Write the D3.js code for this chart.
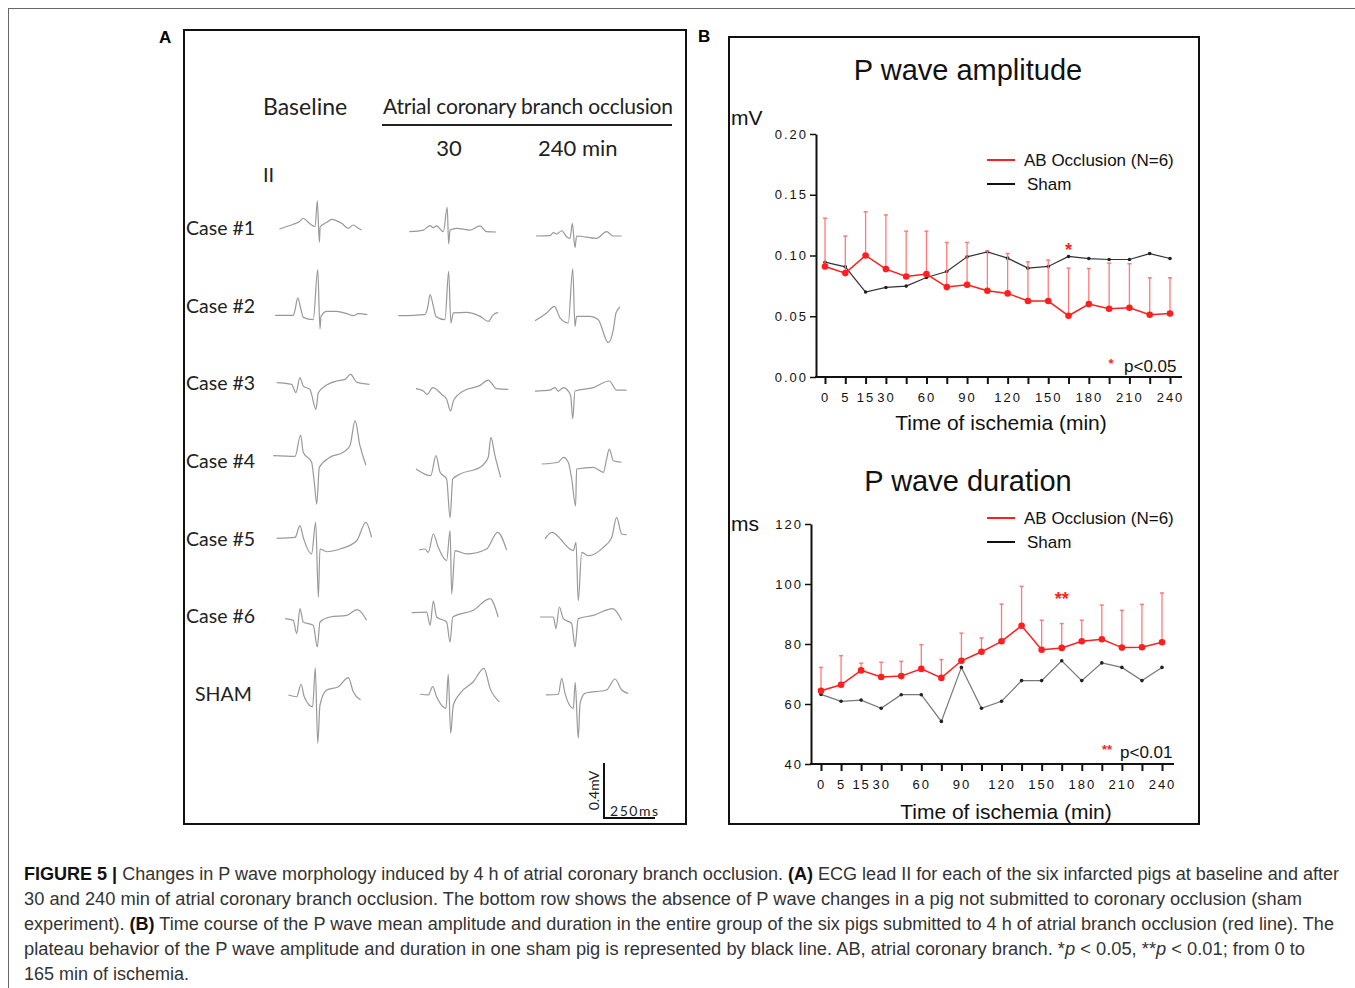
<!DOCTYPE html>
<html lang="en">
<head>
  <meta charset="utf-8">
  <title>Figure 5</title>
  <style>
    body { margin: 0; background: #fff; }
    svg text { font-family: "Liberation Sans", Arial, sans-serif; }
  </style>
</head>
<body>
<script src="https://cdn.jsdelivr.net/npm/d3@7"></script>
<script>
// ---- panel B data (x axis is categorical: one point every 15 min after 15) ----
var times = [0, 5, 15, 30, 45, 60, 75, 90, 105, 120, 135, 150, 165, 180, 195, 210, 225, 240];
var timeLabels = [0, 5, 15, 30, 60, 90, 120, 150, 180, 210, 240];

var ampAB    = [0.091, 0.0855, 0.100, 0.0888, 0.0827, 0.0847, 0.074, 0.0759, 0.071, 0.0688, 0.0625, 0.0625, 0.0504, 0.060, 0.0562, 0.057, 0.0512, 0.0523];
var ampABTop = [0.1307, 0.116, 0.136, 0.1334, 0.120, 0.120, 0.1107, 0.1107, 0.1038, 0.1016, 0.0948, 0.0962, 0.0896, 0.0893, 0.0937, 0.0932, 0.0816, 0.0816];
var ampSham  = [0.0945, 0.0907, 0.0699, 0.0737, 0.0748, 0.0819, 0.0868, 0.0989, 0.103, 0.0978, 0.0896, 0.091, 0.0992, 0.0975, 0.0967, 0.0967, 0.1016, 0.0975];
var ampTicks = [0, 0.05, 0.10, 0.15, 0.20];
var ampStars = [{ time: 165, value: 0.107, mark: "*" }];

var durAB    = [64.4, 66.4, 71.2, 69.0, 69.3, 71.7, 68.7, 74.4, 77.4, 80.9, 86.1, 78.1, 78.7, 80.9, 81.6, 78.8, 78.9, 80.6];
var durABTop = [72.2, 76.1, 73.6, 73.9, 74.2, 79.8, 74.8, 83.6, 82.0, 93.3, 99.2, 87.9, 86.8, 87.9, 93.0, 91.2, 93.2, 97.0];
var durSham  = [63.2, 60.9, 61.3, 58.6, 63.1, 63.1, 54.2, 72.2, 58.6, 60.9, 67.8, 67.8, 74.4, 67.8, 73.7, 72.2, 67.8, 72.2];
var durTicks = [40, 60, 80, 100, 120];
var durStars = [{ time: 165, value: 96, mark: "**" }];

// ---- panel A data: ECG lead II, [ms, mV] from the start of each cell ----
var ecgRows = ["Case #1", "Case #2", "Case #3", "Case #4", "Case #5", "Case #6", "SHAM"];
var ecgCols = ["Baseline", "30", "240 min"];

var case1 = [
  [[46,-0.007],[114,0.027],[144,0.046],[163,0.071],[193,0.034],[221,0.009],[232,0.198],[242,-0.104],[246,0.009],[278,0.041],[302,0.063],[351,0.034],[384,-0.002],[408,0.022],[433,-0.002],[449,-0.015]],
  [[70,-0.027],[139,-0.015],[172,0.017],[188,0.002],[204,0.015],[237,-0.027],[256,0.150],[263,-0.116],[270,-0.015],[302,-0.002],[368,-0.015],[417,0.015],[449,-0.027],[495,-0.029]],
  [[54,-0.058],[123,-0.056],[139,-0.034],[155,-0.044],[180,-0.020],[204,-0.063],[221,-0.075],[232,0.034],[245,-0.143],[253,-0.058],[351,-0.075],[400,-0.027],[433,-0.058],[474,-0.058]]
];
var case2 = [
  [[25,-0.071],[114,-0.071],[123,-0.029],[136,0.056],[150,-0.017],[163,-0.085],[212,-0.102],[234,0.262],[245,-0.169],[250,-0.078],[278,-0.041],[327,-0.041],[376,-0.058],[408,-0.073],[433,-0.058],[477,-0.065]],
  [[16,-0.073],[147,-0.065],[160,-0.015],[172,0.080],[188,-0.005],[201,-0.078],[245,-0.102],[263,0.249],[274,-0.126],[286,-0.053],[351,-0.049],[417,-0.078],[457,-0.114],[482,-0.065],[506,-0.049]],
  [[49,-0.109],[106,-0.053],[144,-0.005],[172,-0.089],[212,-0.126],[234,0.267],[245,-0.150],[253,-0.078],[319,-0.078],[359,-0.102],[408,-0.269],[433,-0.174],[446,-0.053],[466,-0.009]]
];
var case3 = [
  [[33,0.005],[106,-0.007],[127,-0.068],[147,0.041],[163,-0.020],[196,-0.044],[204,-0.080],[225,-0.189],[237,-0.068],[270,-0.020],[327,0.017],[368,0.029],[395,0.065],[425,0.009],[487,-0.007]],
  [[103,-0.039],[139,-0.056],[158,-0.080],[185,-0.031],[229,-0.080],[253,-0.116],[273,-0.201],[286,-0.129],[335,-0.056],[417,-0.015],[457,0.024],[498,-0.039],[555,-0.044]],
  [[49,-0.056],[123,-0.049],[147,-0.031],[163,-0.056],[188,-0.031],[212,-0.056],[224,-0.092],[234,-0.257],[245,-0.056],[335,-0.031],[413,0.017],[449,-0.049],[498,-0.049]]
];
var case4 = [
  [[16,0.039],[123,0.034],[150,0.189],[163,0.063],[204,-0.009],[217,-0.155],[229,-0.313],[242,-0.046],[294,0.027],[359,0.063],[392,0.111],[417,0.293],[441,0.111],[470,-0.029]],
  [[103,-0.058],[175,-0.107],[201,0.039],[221,-0.082],[253,-0.131],[270,-0.414],[283,-0.131],[319,-0.095],[417,-0.046],[457,0.027],[470,0.172],[490,0.039],[518,-0.119]],
  [[82,-0.022],[163,-0.009],[188,0.027],[212,-0.009],[229,-0.131],[248,-0.327],[253,-0.058],[335,-0.046],[384,-0.082],[400,0.015],[413,0.087],[433,0.002],[474,-0.009]]
];
var case5 = [
  [[33,0.002],[123,0.009],[147,0.095],[163,0.009],[204,-0.111],[224,0.119],[237,-0.427],[245,-0.075],[278,-0.095],[343,-0.075],[425,-0.015],[470,0.119],[498,0.009]],
  [[119,-0.082],[147,-0.075],[163,-0.100],[188,0.034],[212,-0.063],[253,-0.160],[270,0.058],[278,-0.402],[294,-0.087],[351,-0.111],[449,-0.075],[503,0.046],[547,-0.082]],
  [[98,-0.002],[131,0.046],[237,-0.087],[250,-0.027],[261,-0.451],[278,-0.100],[310,-0.124],[384,-0.063],[425,0.009],[449,0.155],[474,0.034],[498,0.029]]
];
var case6 = [
  [[74,-0.017],[114,-0.029],[131,-0.126],[147,0.056],[163,-0.041],[212,-0.065],[232,-0.223],[245,-0.041],[294,-0.005],[376,0.007],[428,0.049],[474,-0.029]],
  [[82,0.027],[155,0.031],[172,-0.065],[188,0.111],[204,-0.005],[253,-0.041],[270,-0.187],[283,-0.005],[384,0.044],[466,0.129],[506,-0.005]],
  [[74,-0.005],[139,-0.005],[152,-0.089],[168,0.068],[188,-0.017],[229,-0.053],[245,-0.223],[261,-0.017],[335,0.007],[430,0.056],[474,-0.029]]
];
var sham = [
  [[90,-0.007],[131,-0.020],[152,0.071],[168,-0.020],[209,-0.092],[222,0.191],[234,-0.358],[245,-0.080],[278,0.029],[335,0.053],[384,0.119],[408,0.017],[444,-0.044]],
  [[123,-0.002],[163,-0.007],[185,0.053],[204,-0.020],[250,-0.104],[261,0.143],[273,-0.286],[286,-0.080],[319,0.005],[384,0.089],[436,0.187],[466,0.041],[511,-0.056]],
  [[103,-0.007],[163,-0.002],[180,0.114],[196,0.005],[237,-0.104],[246,0.085],[261,-0.322],[270,-0.068],[294,0.005],[400,0.029],[441,0.109],[474,0.029],[506,0.005]]
];
var ecgData = [case1, case2, case3, case4, case5, case6, sham];

var captionLines = [
  [["b", "FIGURE 5 | "], ["", "Changes in P wave morphology induced by 4 h of atrial coronary branch occlusion. "], ["b", "(A)"], ["", " ECG lead II for each of the six infarcted pigs at baseline and after"]],
  [["", "30 and 240 min of atrial coronary branch occlusion. The bottom row shows the absence of P wave changes in a pig not submitted to coronary occlusion (sham"]],
  [["", "experiment). "], ["b", "(B)"], ["", " Time course of the P wave mean amplitude and duration in the entire group of the six pigs submitted to 4 h of atrial branch occlusion (red line). The"]],
  [["", "plateau behavior of the P wave amplitude and duration in one sham pig is represented by black line. AB, atrial coronary branch. *"], ["i", "p"], ["", " < 0.05, **"], ["i", "p"], ["", " < 0.01; from 0 to"]],
  [["", "165 min of ischemia."]]
];
var captionWidths = [1315, 1278, 1310, 1281, 165];

var W = 1355, H = 988;
var red = "#ff1f1f", redLight = "#ff7a7a";

var svg = d3.select("body").append("svg")
  .attr("width", W).attr("height", H);

// outer frame
svg.append("rect").attr("x", 8.5).attr("y", 8.5).attr("width", 1400).attr("height", 1100)
  .attr("fill", "none").attr("stroke", "#666").attr("stroke-width", 1);

// ================= PANEL A =================
var gA = svg.append("g");
gA.append("rect").attr("x", 184).attr("y", 30).attr("width", 502).attr("height", 794)
  .attr("fill", "none").attr("stroke", "#111").attr("stroke-width", 2);
svg.append("text").attr("x", 159).attr("y", 43).attr("font-size", 17).attr("font-weight", "bold").text("A");
svg.append("text").attr("x", 698).attr("y", 42).attr("font-size", 17).attr("font-weight", "bold").text("B");

var fA = "Lato, 'Open Sans', sans-serif";
gA.append("text").attr("x", 263).attr("y", 115).attr("font-size", 23).style("font-family", fA).attr("fill", "#222").text("Baseline");
gA.append("text").attr("x", 383).attr("y", 114).attr("font-size", 21).style("font-family", fA).attr("fill", "#222")
  .attr("textLength", 290).text("Atrial coronary branch occlusion");
gA.append("line").attr("x1", 382).attr("x2", 672).attr("y1", 125).attr("y2", 125).attr("stroke", "#222").attr("stroke-width", 2);
gA.append("text").attr("x", 449).attr("y", 156).attr("text-anchor", "middle").attr("font-size", 22).style("font-family", fA).attr("fill", "#222").text("30");
gA.append("text").attr("x", 538).attr("y", 156).attr("font-size", 22).style("font-family", fA).attr("fill", "#222").text("240 min");
gA.append("text").attr("x", 263).attr("y", 182).attr("font-size", 20).style("font-family", fA).attr("fill", "#222").text("II");

var rowY = d3.scalePoint().domain(ecgRows).range([228, 694]);
var colX = d3.scaleOrdinal().domain(ecgCols).range([270, 395, 525]);
var tScale = d3.scaleLinear().domain([0, 250]).range([0, 51]);
var vScale = d3.scaleLinear().domain([0, 0.4]).range([0, -55]);

ecgRows.forEach(function (r, i) {
  gA.append("text")
    .attr("x", r === "SHAM" ? 195 : 186).attr("y", rowY(r) + 7)
    .attr("font-size", 19.5).style("font-family", fA).attr("fill", "#222").text(r);
  ecgCols.forEach(function (c, j) {
    var line = d3.line()
      .curve(d3.curveMonotoneX)
      .x(function (d) { return colX(c) + tScale(d[0]); })
      .y(function (d) { return rowY(r) + vScale(d[1]); });
    gA.append("path").datum(ecgData[i][j]).attr("d", line)
      .attr("fill", "none").attr("stroke", "#999").attr("stroke-width", 1.2)
      .attr("stroke-linejoin", "round");
  });
});

// scale bar
var sbX = 604, sbY = 818;
gA.append("path")
  .attr("d", "M" + sbX + "," + (sbY + vScale(0.4)) + "V" + sbY + "H" + (sbX + tScale(250)))
  .attr("fill", "none").attr("stroke", "#111").attr("stroke-width", 2);
gA.append("text").attr("transform", "translate(599," + (sbY + vScale(0.2)) + ") rotate(-90)")
  .attr("text-anchor", "middle").attr("font-size", 14).style("font-family", fA).attr("fill", "#222").text("0.4mV");
gA.append("text").attr("x", sbX + 6).attr("y", sbY - 2).attr("font-size", 14).style("font-family", fA)
  .attr("fill", "#222").attr("textLength", 48).text("250ms");

// ================= PANEL B =================
svg.append("rect").attr("x", 729).attr("y", 37).attr("width", 470).attr("height", 787)
  .attr("fill", "none").attr("stroke", "#111").attr("stroke-width", 2);

function drawChart(cfg) {
  var g = svg.append("g");
  var x = d3.scalePoint().domain(times).range(cfg.xRange);
  var y = d3.scaleLinear().domain(cfg.yDomain).range(cfg.yRange);
  var x0 = cfg.axisX, y0 = cfg.yRange[0];

  g.append("text").attr("x", cfg.titleX).attr("y", cfg.titleY).attr("text-anchor", "middle")
    .attr("font-size", 29).attr("fill", "#111").text(cfg.title);
  g.append("text").attr("x", 731).attr("y", cfg.unitY).attr("font-size", 21).attr("fill", "#111").text(cfg.unit);

  // y axis
  var ya = g.append("g").attr("transform", "translate(" + x0 + ",0)")
    .call(d3.axisLeft(y).tickValues(cfg.yTicks).tickFormat(cfg.yFormat).tickSize(6).tickSizeOuter(0));
  ya.select(".domain").attr("stroke", "#111").attr("stroke-width", 2);
  ya.selectAll(".tick line").attr("stroke", "#111").attr("stroke-width", 1.5);
  ya.selectAll(".tick text").attr("font-size", 13).attr("fill", "#111")
    .style("letter-spacing", "2px").style("font-family", "'Liberation Sans', Arial, sans-serif")
    .attr("x", -8);

  // x axis
  var xa = g.append("g").attr("transform", "translate(0," + y0 + ")")
    .call(d3.axisBottom(x).tickValues(times)
      .tickFormat(function (d) { return timeLabels.indexOf(d) >= 0 ? d : ""; })
      .tickSize(7).tickSizeOuter(0));
  xa.select(".domain").remove();
  xa.selectAll(".tick line").attr("stroke", "#111").attr("stroke-width", 2);
  xa.selectAll(".tick text").attr("font-size", 13).attr("fill", "#111").attr("y", 16)
    .style("letter-spacing", "2px").style("font-family", "'Liberation Sans', Arial, sans-serif");
  g.append("line").attr("x1", x0 - 1).attr("x2", cfg.xRange[1] + 12).attr("y1", y0).attr("y2", y0)
    .attr("stroke", "#111").attr("stroke-width", 2);

  g.append("text").attr("x", cfg.xTitleX).attr("y", cfg.xTitleY).attr("text-anchor", "middle")
    .attr("font-size", 21).attr("fill", "#111").text("Time of ischemia (min)");

  // sham line
  var line = d3.line().x(function (d, i) { return x(times[i]); }).y(function (d) { return y(d); });
  g.append("path").datum(cfg.sham).attr("d", line).attr("fill", "none")
    .attr("stroke", cfg.shamColor).attr("stroke-width", 1.2);
  g.selectAll(".sd").data(cfg.sham).enter().append("circle")
    .attr("cx", function (d, i) { return x(times[i]); }).attr("cy", function (d) { return y(d); })
    .attr("r", 1.8).attr("fill", "#222");

  // AB error bars (upper only)
  cfg.ab.forEach(function (d, i) {
    var cx = x(times[i]);
    g.append("line").attr("x1", cx).attr("x2", cx).attr("y1", y(d)).attr("y2", y(cfg.abTop[i]))
      .attr("stroke", redLight).attr("stroke-width", 1.3);
    g.append("line").attr("x1", cx - 2).attr("x2", cx + 2).attr("y1", y(cfg.abTop[i])).attr("y2", y(cfg.abTop[i]))
      .attr("stroke", redLight).attr("stroke-width", 1.5);
  });
  g.append("path").datum(cfg.ab).attr("d", line).attr("fill", "none")
    .attr("stroke", red).attr("stroke-width", 1.5);
  g.selectAll(".ad").data(cfg.ab).enter().append("circle")
    .attr("cx", function (d, i) { return x(times[i]); }).attr("cy", function (d) { return y(d); })
    .attr("r", 3.3).attr("fill", red);

  // significance marks
  cfg.stars.forEach(function (s) {
    g.append("text").attr("x", x(s.time)).attr("y", y(s.value) + 9).attr("text-anchor", "middle")
      .attr("font-size", 18).attr("font-weight", "bold").attr("fill", red).text(s.mark);
  });

  // legend
  var ly = cfg.legendY;
  g.append("line").attr("x1", 987).attr("x2", 1015).attr("y1", ly).attr("y2", ly).attr("stroke", red).attr("stroke-width", 2);
  g.append("text").attr("x", 1024).attr("y", ly + 6).attr("font-size", 17).attr("fill", "#111").text("AB Occlusion (N=6)");
  g.append("line").attr("x1", 987).attr("x2", 1015).attr("y1", ly + 24).attr("y2", ly + 24).attr("stroke", "#111").attr("stroke-width", 2);
  g.append("text").attr("x", 1027).attr("y", ly + 30).attr("font-size", 17).attr("fill", "#111").text("Sham");

  // p-value note
  g.append("text").attr("x", cfg.noteX - 13).attr("y", cfg.noteY + 2).attr("text-anchor", "middle")
    .attr("font-size", 13).attr("font-weight", "bold").attr("fill", red).text(cfg.noteMark);
  g.append("text").attr("x", cfg.noteX).attr("y", cfg.noteY + 6).attr("font-size", 17).attr("fill", "#111").text(cfg.noteText);
}

drawChart({
  title: "P wave amplitude", titleX: 968, titleY: 80, unit: "mV", unitY: 125,
  xRange: [825, 1170], yDomain: [0, 0.2], yRange: [377, 134], axisX: 816,
  yTicks: ampTicks, yFormat: d3.format(".2f"),
  xTitleX: 1001, xTitleY: 430,
  ab: ampAB, abTop: ampABTop, sham: ampSham, shamColor: "#333", stars: ampStars,
  legendY: 160, noteX: 1124, noteY: 366, noteMark: "*", noteText: "p<0.05"
});
drawChart({
  title: "P wave duration", titleX: 968, titleY: 491, unit: "ms", unitY: 531,
  xRange: [821, 1162], yDomain: [40, 120], yRange: [764, 524], axisX: 811,
  yTicks: durTicks, yFormat: d3.format("d"),
  xTitleX: 1006, xTitleY: 819,
  ab: durAB, abTop: durABTop, sham: durSham, shamColor: "#777", stars: durStars,
  legendY: 518, noteX: 1120, noteY: 752, noteMark: "**", noteText: "p<0.01"
});

// ================= CAPTION =================
var cap = svg.append("g");
captionLines.forEach(function (parts, i) {
  var t = cap.append("text").attr("x", 24).attr("y", 880 + i * 25)
    .attr("font-size", 17.5).attr("fill", "#333")
    .style("font-family", "'Liberation Sans Narrow', 'Liberation Sans', Arial, sans-serif")
    .attr("textLength", captionWidths[i]).attr("lengthAdjust", "spacingAndGlyphs");
  parts.forEach(function (p) {
    var s = t.append("tspan").text(p[1]);
    if (p[0] === "b") s.attr("font-weight", "bold").attr("fill", "#111");
    if (p[0] === "i") s.attr("font-style", "italic");
  });
});
</script>
</body>
</html>
